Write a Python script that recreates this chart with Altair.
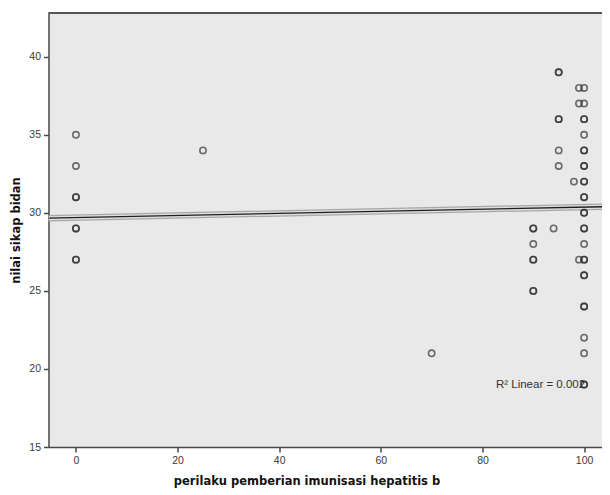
import altair as alt
import pandas as pd

# data (one x per y)
y_at_0 = [35, 33, 31, 31, 29, 29, 27, 27]
y_at_25 = [34]
y_at_70 = [21]
y_at_90 = [29, 29, 28, 27, 27, 25, 25]
y_at_94 = [29]
y_at_95 = [39, 39, 36, 36, 34, 33]
y_at_98 = [32]
y_at_99 = [38, 37, 27]
y_at_100 = [38, 37, 36, 36, 35, 34, 34, 33, 33, 32, 32, 31, 31, 30, 30, 29,
            29, 28, 27, 27, 26, 26, 24, 24, 22, 21, 19, 19]

groups = [(0, y_at_0), (25, y_at_25), (70, y_at_70), (90, y_at_90), (94, y_at_94),
          (95, y_at_95), (98, y_at_98), (99, y_at_99), (100, y_at_100)]

# fit line (SPSS linear fit)
fit_x = [-5.4, 104.8]
fit_y = [29.66, 30.40]

label_text = ["R\u00b2 Linear = 0.002"]
label_x = [100.2]
label_y = [19]

x_domain = [-5.4, 104.8]
y_domain = [15, 42.8]
x_ticks = [0, 20, 40, 60, 80, 100]
y_ticks = [15, 20, 25, 30, 35, 40]

rows = [{"x": gx, "y": yv} for gx, ys_ in groups for yv in ys_]
df = pd.DataFrame(rows)
fit = pd.DataFrame({"x": fit_x, "y": fit_y})
lab = pd.DataFrame({"t": label_text, "x": label_x, "y": label_y})

W, H = 560, 434

xs = alt.Scale(domain=x_domain, nice=False, zero=False)
ys = alt.Scale(domain=y_domain, nice=False, zero=False)

x_axis = alt.Axis(values=x_ticks, title="perilaku pemberian imunisasi hepatitis b",
                  grid=False, tickSize=5, labelPadding=3, titlePadding=10,
                  titleX=258)
y_axis = alt.Axis(values=y_ticks, title="nilai sikap bidan",
                  grid=False, tickSize=5, labelPadding=3, titlePadding=7)

points = alt.Chart(df).mark_point(shape="circle", filled=False, size=40, strokeWidth=1.6,
                                  color="#2a2a2a", opacity=0.66, clip=True).encode(
    x=alt.X("x:Q", scale=xs, axis=x_axis),
    y=alt.Y("y:Q", scale=ys, axis=y_axis),
)

fb = alt.Chart(fit)
halo = fb.mark_line(color="#a8a8a8", strokeWidth=6.5, clip=True).encode(
    x=alt.X("x:Q", scale=xs), y=alt.Y("y:Q", scale=ys))
inner = fb.mark_line(color="#dedede", strokeWidth=4, clip=True).encode(
    x=alt.X("x:Q", scale=xs), y=alt.Y("y:Q", scale=ys))
core = fb.mark_line(color="#1e1e1e", strokeWidth=1.4, clip=True).encode(
    x=alt.X("x:Q", scale=xs), y=alt.Y("y:Q", scale=ys))

top_border = alt.Chart(fit).mark_rule(color="#4a4a4a", strokeWidth=1.5).encode(
    x=alt.value(0), x2=alt.value(W), y=alt.value(0))

label = alt.Chart(lab).mark_text(align="right", baseline="middle", fontSize=11.5,
                                 font="Liberation Sans", color="#333333").encode(
    x=alt.X("x:Q", scale=xs), y=alt.Y("y:Q", scale=ys), text="t:N")

chart = alt.layer(halo, inner, core, points, label, top_border).properties(
    width=W, height=H,
    autosize=alt.AutoSizeParams(type="none"),
    padding={"left": 40.5, "top": 5, "right": -7, "bottom": 42},
).configure_view(
    stroke=None, fill="#e9e9e9"
).configure_axis(
    domainColor="#4a4a4a", domainWidth=1.5, tickColor="#4a4a4a", tickWidth=1.5,
    labelFont="Liberation Sans", labelFontSize=10.5, labelColor="#3a3a3a",
    titleFont="DejaVu Sans", titleFontSize=11.5, titleFontWeight="bold",
    titleColor="#111111",
)

chart.save("out.html", embed_options={"renderer": "svg", "actions": False})
